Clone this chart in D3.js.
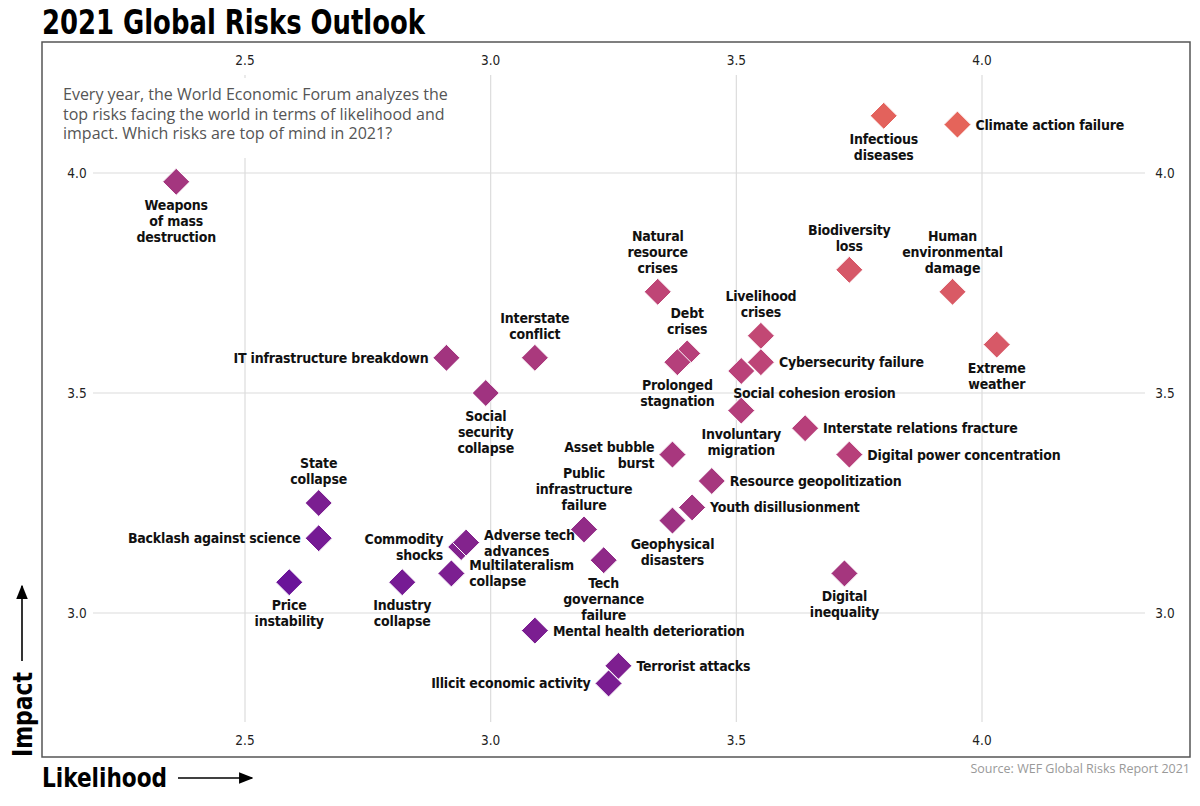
<!DOCTYPE html>
<html lang="en">
<head>
  <meta charset="utf-8">
  <script src="https://d3js.org/d3.v7.min.js"></script>
  <style>
    body { margin: 0; background: #fff; }
    .label { font-family: "DejaVu Sans Condensed", "DejaVu Sans", sans-serif; font-weight: bold; font-size: 14px; letter-spacing: -0.2px; fill: #111; }
    .tick { font-family: "DejaVu Sans Condensed", "DejaVu Sans", sans-serif; font-size: 13.5px; fill: #222; }
  </style>
</head>
<body>
<script>
  // risks, likelihood (x) and impact (y)
  var risks = [
    "Infectious diseases", "Climate action failure", "Weapons of mass destruction",
    "Biodiversity loss", "Human environmental damage", "Natural resource crises",
    "Extreme weather", "Livelihood crises", "Debt crises", "Prolonged stagnation",
    "Cybersecurity failure", "Social cohesion erosion", "IT infrastructure breakdown",
    "Interstate conflict", "Social security collapse", "Involuntary migration",
    "Interstate relations fracture", "Digital power concentration", "Asset bubble burst",
    "Resource geopolitization", "Youth disillusionment", "Geophysical disasters",
    "Public infrastructure failure", "State collapse", "Backlash against science",
    "Commodity shocks", "Adverse tech advances", "Multilateralism collapse",
    "Tech governance failure", "Price instability", "Industry collapse",
    "Digital inequality", "Mental health deterioration", "Terrorist attacks",
    "Illicit economic activity"
  ];
  var likelihood = [
    3.80, 3.95, 2.36,
    3.73, 3.94, 3.34,
    4.03, 3.55, 3.40, 3.38,
    3.55, 3.51, 2.91,
    3.09, 2.99, 3.51,
    3.64, 3.73, 3.37,
    3.45, 3.41, 3.37,
    3.19, 2.65, 2.65,
    2.94, 2.95, 2.92,
    3.23, 2.59, 2.82,
    3.72, 3.09, 3.26,
    3.24
  ];
  var impact = [
    4.13, 4.11, 3.98,
    3.78, 3.73, 3.73,
    3.61, 3.63, 3.59, 3.57,
    3.57, 3.55, 3.58,
    3.58, 3.50, 3.46,
    3.42, 3.36, 3.36,
    3.30, 3.24, 3.21,
    3.19, 3.25, 3.17,
    3.15, 3.16, 3.09,
    3.12, 3.07, 3.07,
    3.09, 2.96, 2.88,
    2.84
  ];
  // label lines and where they sit relative to the marker
  var labelLines = [
    ["Infectious", "diseases"], ["Climate action failure"], ["Weapons", "of mass", "destruction"],
    ["Biodiversity", "loss"], ["Human", "environmental", "damage"], ["Natural", "resource", "crises"],
    ["Extreme", "weather"], ["Livelihood", "crises"], ["Debt", "crises"], ["Prolonged", "stagnation"],
    ["Cybersecurity failure"], ["Social cohesion erosion"], ["IT infrastructure breakdown"],
    ["Interstate", "conflict"], ["Social", "security", "collapse"], ["Involuntary", "migration"],
    ["Interstate relations fracture"], ["Digital power concentration"], ["Asset bubble", "burst"],
    ["Resource geopolitization"], ["Youth disillusionment"], ["Geophysical", "disasters"],
    ["Public", "infrastructure", "failure"], ["State", "collapse"], ["Backlash against science"],
    ["Commodity", "shocks"], ["Adverse tech", "advances"], ["Multilateralism", "collapse"],
    ["Tech", "governance", "failure"], ["Price", "instability"], ["Industry", "collapse"],
    ["Digital", "inequality"], ["Mental health deterioration"], ["Terrorist attacks"],
    ["Illicit economic activity"]
  ];
  var labelPos = [
    "below", "right", "below",
    "above", "above", "above",
    "below", "above", "above", "below",
    "right", "belowright", "left",
    "above", "below", "below",
    "right", "right", "left",
    "right", "right", "below",
    "above", "above", "left",
    "left", "right", "right",
    "below", "below", "below",
    "below", "right", "right",
    "left"
  ];
  var xTicks = [2.5, 3.0, 3.5, 4.0];
  var yTicks = [3.0, 3.5, 4.0];
  var subtitle = [
    "Every year, the World Economic Forum analyzes the",
    "top risks facing the world in terms of likelihood and",
    "impact. Which risks are top of mind in 2021?"
  ];

  var dim = { width: 1200, height: 806, left: 42, right: 1190, top: 42, bottom: 757 };

  var svg = d3.select("body").append("svg")
    .attr("width", dim.width)
    .attr("height", dim.height);

  var xScale = d3.scaleLinear().domain([2.5, 4.0]).range([245, 982]);
  var yScale = d3.scaleLinear().domain([3.0, 4.0]).range([613, 173]);

  // colour follows a weighted score of likelihood and impact
  var colour = d3.scaleLinear()
    .domain([7.2, 8.3, 8.8, 9.4, 10.1])
    .range(["#6a1499", "#a3357f", "#b8407a", "#d65868", "#e5645a"])
    .clamp(true);

  // title
  svg.append("text")
    .attr("x", 42).attr("y", 34)
    .style("font-family", "'DejaVu Sans Condensed', sans-serif")
    .style("font-weight", "bold")
    .style("font-size", "33px")
    .attr("textLength", 383)
    .attr("lengthAdjust", "spacingAndGlyphs")
    .text("2021 Global Risks Outlook");

  // gridlines
  svg.append("g").selectAll("line")
    .data(xTicks).enter().append("line")
    .attr("x1", d => xScale(d)).attr("x2", d => xScale(d))
    .attr("y1", 75).attr("y2", 722)
    .attr("stroke", "#dcdcdc").attr("stroke-width", 1.2);

  svg.append("g").selectAll("line")
    .data(yTicks).enter().append("line")
    .attr("x1", 93).attr("x2", 1145)
    .attr("y1", d => yScale(d)).attr("y2", d => yScale(d))
    .attr("stroke", "#dcdcdc").attr("stroke-width", 1.2);

  // tick labels on all four sides
  var fmt = d3.format(".1f");
  svg.append("g").selectAll("text")
    .data(xTicks).enter().append("text")
    .attr("class", "tick").attr("text-anchor", "middle")
    .attr("x", d => xScale(d)).attr("y", 65).text(fmt);
  svg.append("g").selectAll("text")
    .data(xTicks).enter().append("text")
    .attr("class", "tick").attr("text-anchor", "middle")
    .attr("x", d => xScale(d)).attr("y", 745).text(fmt);
  svg.append("g").selectAll("text")
    .data(yTicks).enter().append("text")
    .attr("class", "tick").attr("text-anchor", "middle")
    .attr("x", 77).attr("y", d => yScale(d) + 5).text(fmt);
  svg.append("g").selectAll("text")
    .data(yTicks).enter().append("text")
    .attr("class", "tick").attr("text-anchor", "middle")
    .attr("x", 1165).attr("y", d => yScale(d) + 5).text(fmt);

  // subtitle box covers the grid behind it
  svg.append("rect")
    .attr("x", 55).attr("y", 78).attr("width", 410).attr("height", 80)
    .attr("fill", "#fff");
  svg.append("g").selectAll("text")
    .data(subtitle).enter().append("text")
    .style("font-family", "'Open Sans', sans-serif")
    .style("font-size", "16px")
    .attr("fill", "#555")
    .attr("x", 63).attr("y", (d, i) => 100 + i * 19.5)
    .text(d => d);

  // frame
  svg.append("rect")
    .attr("x", dim.left).attr("y", dim.top)
    .attr("width", dim.right - dim.left).attr("height", dim.bottom - dim.top)
    .attr("fill", "none").attr("stroke", "#555").attr("stroke-width", 1.5);

  var points = risks.map(function(name, i) {
    return { name: name, x: likelihood[i], y: impact[i], lines: labelLines[i], pos: labelPos[i] };
  });

  // diamonds
  var half = 13.5;
  svg.append("g").selectAll("path")
    .data(points).enter().append("path")
    .attr("d", "M0," + (-half) + "L" + half + ",0L0," + half + "L" + (-half) + ",0Z")
    .attr("transform", d => "translate(" + xScale(d.x) + "," + yScale(d.y) + ")")
    .attr("fill", d => colour(d.x + 1.5 * d.y))
    .attr("stroke", "#fff").attr("stroke-width", 1);

  // labels
  var lineH = 16;
  var labels = svg.append("g").selectAll("text")
    .data(points).enter().append("text")
    .attr("class", "label")
    .attr("text-anchor", function(d) {
      if (d.pos == "left") return "end";
      if (d.pos == "right" || d.pos == "belowright") return "start";
      return "middle";
    });

  labels.each(function(d) {
    var cx = xScale(d.x), cy = yScale(d.y);
    var n = d.lines.length;
    var x, y0;
    if (d.pos == "above") { x = cx; y0 = cy - 19 - (n - 1) * lineH; }
    else if (d.pos == "below") { x = cx; y0 = cy + 28; }
    else if (d.pos == "belowright") { x = cx - 8; y0 = cy + 27; }
    else if (d.pos == "left") { x = cx - 18; y0 = cy + 5 - (n - 1) * lineH / 2; }
    else { x = cx + 18; y0 = cy + 5 - (n - 1) * lineH / 2; }
    d3.select(this).selectAll("tspan")
      .data(d.lines).enter().append("tspan")
      .attr("x", x).attr("y", (l, i) => y0 + i * lineH)
      .text(l => l);
  });

  // axis titles with arrows
  svg.append("defs").append("marker")
    .attr("id", "arrow").attr("viewBox", "0 0 10 10")
    .attr("refX", 9).attr("refY", 5)
    .attr("markerWidth", 9).attr("markerHeight", 9)
    .attr("orient", "auto")
    .append("path").attr("d", "M0,1L10,5L0,9Z").attr("fill", "#000");

  svg.append("text")
    .attr("x", 42).attr("y", 787)
    .style("font-family", "'DejaVu Sans Condensed', sans-serif")
    .style("font-weight", "bold").style("font-size", "27px")
    .attr("textLength", 125).attr("lengthAdjust", "spacingAndGlyphs")
    .text("Likelihood");
  svg.append("line")
    .attr("x1", 178).attr("x2", 252).attr("y1", 778).attr("y2", 778)
    .attr("stroke", "#000").attr("stroke-width", 1.6)
    .attr("marker-end", "url(#arrow)");

  svg.append("text")
    .attr("transform", "translate(32,757) rotate(-90)")
    .style("font-family", "'DejaVu Sans Condensed', sans-serif")
    .style("font-weight", "bold").style("font-size", "27px")
    .attr("textLength", 85).attr("lengthAdjust", "spacingAndGlyphs")
    .text("Impact");
  svg.append("line")
    .attr("x1", 22).attr("x2", 22).attr("y1", 661).attr("y2", 586)
    .attr("stroke", "#000").attr("stroke-width", 1.6)
    .attr("marker-end", "url(#arrow)");

  // source
  svg.append("text")
    .attr("x", 1190).attr("y", 773).attr("text-anchor", "end")
    .style("font-family", "'Open Sans', sans-serif").style("font-size", "12.5px")
    .attr("fill", "#999")
    .text("Source: WEF Global Risks Report 2021");
</script>
</body>
</html>
